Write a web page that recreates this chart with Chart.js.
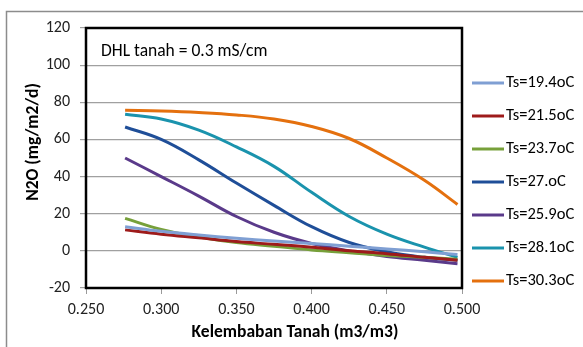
<!DOCTYPE html>
<html>
<head>
<meta charset="utf-8">
<script src="https://cdn.jsdelivr.net/npm/chart.js@4/dist/chart.umd.min.js"></script>
<style>
   html, body { margin: 0; padding: 0; background: #fff; }
   #wrap { width: 583px; height: 347px; position: relative; }
</style>
</head>
<body>
<div id="wrap"><canvas id="n2oChart" width="583" height="347"></canvas></div>
<script>
// soil moisture (m3/m3)
const moisture = [0.276, 0.300, 0.325, 0.350, 0.375, 0.400, 0.425, 0.450, 0.475, 0.497];

const ts194 = [13, 10.5, 8.5, 6.8, 5.3, 4, 2.5, 1, -0.5, -2];
const ts215 = [11.3, 9, 7, 5, 3.5, 2, 0, -1.5, -3.5, -5];
const ts237 = [17.5, 11.5, 7.5, 4.5, 2.5, 0.5, -1, -2.5, -3.5, -4.5];
const ts27 = [66.7, 60, 49, 36.5, 24.5, 13, 4.5, -0.5, -3.5, -5];
const ts259 = [50, 40, 29.5, 18.5, 10, 4, 0, -3, -5, -7];
const ts281 = [73.5, 71, 65, 56, 45.5, 31.5, 18.5, 9, 2, -3.5];
const ts303 = [75.7, 75.3, 74.5, 73.2, 71, 67, 60.5, 50, 38, 25];

const seriesLabels = ["Ts=19.4oC", "Ts=21.5oC", "Ts=23.7oC", "Ts=27.oC", "Ts=25.9oC", "Ts=28.1oC", "Ts=30.3oC"];
const seriesValues = [ts194, ts215, ts237, ts27, ts259, ts281, ts303];
const seriesColors = ["#7f9fd3", "#9e1b1b", "#77a03a", "#1f4e98", "#5a3a8a", "#1a93ad", "#e4700e"];

const xTicks = [0.25, 0.30, 0.35, 0.40, 0.45, 0.50];
const yTicks = [-20, 0, 20, 40, 60, 80, 100, 120];

const FONT = "Carlito, Calibri, Lato, sans-serif";

function makeDatasets() {
   let sets = [];
   seriesValues.forEach((vals, i) => {
      sets.push({
         label: seriesLabels[i],
         data: vals.map((v, k) => ({ x: moisture[k], y: v })),
         borderColor: seriesColors[i],
         backgroundColor: seriesColors[i],
         borderWidth: 3,
         pointRadius: 0,
         tension: 0.4,
         fill: false,
      });
   });
   return sets;
}

// frame, note text, axis titles and legend
const decorations = {
   id: "decorations",
   afterDraw(chart) {
      const ctx = chart.ctx;
      const a = chart.chartArea;
      ctx.save();

      ctx.strokeStyle = "#8c8c8c";
      ctx.lineWidth = 1.5;
      ctx.strokeRect(6.5, 11.5, 700, 500);

      ctx.strokeStyle = "#000";
      ctx.lineWidth = 2.5;
      ctx.strokeRect(a.left, a.top, a.right - a.left, a.bottom - a.top);

      ctx.fillStyle = "#000";
      ctx.font = "17.5px " + FONT;
      ctx.textAlign = "left";
      ctx.textBaseline = "middle";
      ctx.fillText("DHL tanah = 0.3 mS/cm", a.left + 15, a.top + 24);

      ctx.font = "bold 17.5px " + FONT;
      ctx.textAlign = "center";
      ctx.fillText("Kelembaban Tanah (m3/m3)", 295, 333);

      ctx.save();
      ctx.translate(34, 142);
      ctx.rotate(-Math.PI / 2);
      ctx.fillText("N2O (mg/m2/d)", 0, 0);
      ctx.restore();

      ctx.font = "16.5px " + FONT;
      ctx.textAlign = "left";
      chart.data.datasets.forEach((ds, i) => {
         const y = a.top + 55 + i * 33;
         ctx.strokeStyle = ds.borderColor;
         ctx.lineWidth = 3;
         ctx.beginPath();
         ctx.moveTo(a.right + 10, y);
         ctx.lineTo(a.right + 42, y);
         ctx.stroke();
         ctx.fillStyle = "#000";
         ctx.fillText(ds.label, a.right + 44, y);
      });
      ctx.restore();
   },
};

const ctx = document.getElementById("n2oChart").getContext("2d");

new Chart(ctx, {
   type: "line",
   data: { datasets: makeDatasets() },
   options: {
      responsive: false,
      animation: false,
      layout: { padding: { left: 0, top: 28, right: 121, bottom: 0 } },
      plugins: {
         legend: { display: false },
         tooltip: { enabled: false },
      },
      scales: {
         x: {
            type: "linear",
            min: 0.25,
            max: 0.5,
            afterFit: (s) => { s.height = 59; },
            afterBuildTicks: (s) => { s.ticks = xTicks.map((v) => ({ value: v })); },
            ticks: {
               color: "#222",
               font: { family: FONT, size: 16 },
               padding: 6,
               callback: (v) => v.toFixed(3),
            },
            grid: { drawOnChartArea: false, drawTicks: true, tickLength: 6, color: "#9a9a9a" },
            border: { display: false },
         },
         y: {
            min: -20,
            max: 120,
            afterFit: (s) => { s.width = 86; },
            afterBuildTicks: (s) => { s.ticks = yTicks.map((v) => ({ value: v })); },
            ticks: {
               color: "#222",
               font: { family: FONT, size: 16 },
               padding: 10,
            },
            grid: { drawTicks: true, tickLength: 6, color: "#a0a0a0", lineWidth: 1.2 },
            border: { display: false },
         },
      },
   },
   plugins: [decorations],
});
</script>
</body>
</html>
